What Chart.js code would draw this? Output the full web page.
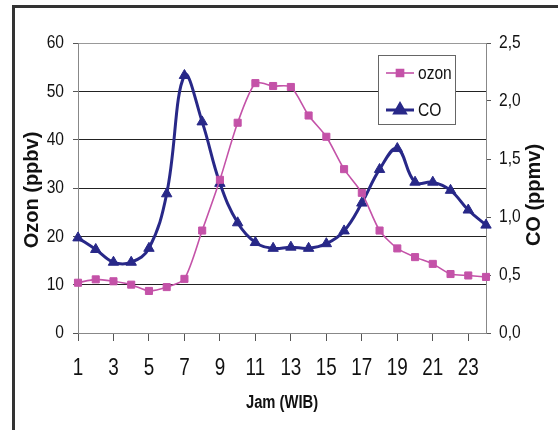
<!DOCTYPE html>
<html>
<head>
<meta charset="utf-8">
<script src="https://cdn.jsdelivr.net/npm/chart.js@4.4.1/dist/chart.umd.min.js"></script>
<style>
  html, body { margin: 0; padding: 0; background: #fff; }
  #wrap { position: relative; width: 558px; height: 430px; overflow: hidden; }
  #frame { position: absolute; left: 12px; top: 5px; width: 600px; height: 500px;
           border-left: 3px solid #333; border-top: 3px solid #333; }
  #c { position: absolute; left: 0; top: 0; }
</style>
</head>
<body>
<div id="wrap">
  <div id="frame"></div>
  <canvas id="c" width="558" height="430"></canvas>
</div>
<script>
// Hourly mean concentrations (local time, WIB)
const hours = ['1','2','3','4','5','6','7','8','9','10','11','12',
               '13','14','15','16','17','18','19','20','21','22','23','24'];
const ozon = [10.4, 11.1, 10.7, 10.0, 8.7, 9.5, 11.2, 21.2, 31.7, 43.5, 51.7, 51.1,
              50.9, 45.0, 40.6, 33.9, 29.0, 21.2, 17.5, 15.7, 14.3, 12.2, 11.9, 11.6];
const co = [0.82, 0.72, 0.61, 0.61, 0.73, 1.20, 2.22, 1.82, 1.29, 0.95, 0.78, 0.73,
            0.74, 0.73, 0.77, 0.88, 1.12, 1.41, 1.59, 1.30, 1.30, 1.23, 1.06, 0.93];
const ozonTicks = [0, 10, 20, 30, 40, 50, 60];
const coTicks = [0.0, 0.5, 1.0, 1.5, 2.0, 2.5];

const seriesNames = ['ozon', 'CO'];
const axisTitles = { x: 'Jam (WIB)', left: 'Ozon (ppbv)', right: 'CO (ppmv)' };

const PINK = '#C452A8';
const NAVY = '#282888';
const SANS = "'Liberation Sans', Arial, sans-serif";
const NARROW_FACTOR = 0.82;   // horizontal squeeze for a narrow-face look

const PAD = { left: 14, right: 12, top: 43, bottom: 0 };

// Horizontal labels are set in a narrow face: squeeze glyphs around their anchor
const narrowText = {
  id: 'narrowText',
  beforeDraw(chart) {
    const ctx = chart.ctx;
    if (ctx._plainFillText) return;
    const plain = ctx.fillText;
    ctx._plainFillText = plain;
    ctx.fillText = function (text, x, y) {
      this.save();
      this.translate(x, y);
      this.scale(NARROW_FACTOR, 1);
      plain.call(this, text, 0, 0);
      this.restore();
    };
  }
};

// Legend box drawn inside the plot area, top right
const boxLegend = {
  id: 'boxLegend',
  afterDatasetsDraw(chart) {
    const { ctx, chartArea } = chart;
    const w = 77, h = 69;
    const x = chartArea.right - 108, y = chartArea.top + 12;
    ctx.save();
    ctx.fillStyle = '#fff';
    ctx.fillRect(x, y, w, h);
    ctx.strokeStyle = '#666';
    ctx.lineWidth = 1;
    ctx.strokeRect(x + 0.5, y + 0.5, w, h);
    chart.data.datasets.forEach((ds, i) => {
      const ry = y + 18 + i * 37;
      ctx.strokeStyle = ds.borderColor;
      ctx.lineWidth = ds.borderWidth;
      ctx.beginPath();
      ctx.moveTo(x + 8, ry);
      ctx.lineTo(x + 36, ry);
      ctx.stroke();
      ctx.fillStyle = ds.pointBackgroundColor;
      ctx.strokeStyle = ds.pointBorderColor;
      Chart.helpers.drawPoint(ctx, {
        pointStyle: ds.pointStyle, radius: ds.pointRadius, borderWidth: 1, rotation: 0
      }, x + 22, ry);
      ctx.fillStyle = '#111';
      ctx.font = '19px ' + SANS;
      ctx.textBaseline = 'middle';
      ctx.textAlign = 'left';
      ctx.fillText(ds.label, x + 40, ry + 1);
    });
    ctx.restore();
  }
};

// Vertical axis titles, both reading bottom to top
const sideTitles = {
  id: 'sideTitles',
  afterDraw(chart) {
    const { ctx, chartArea } = chart;
    const midY = (chartArea.top + chartArea.bottom) / 2;
    const plain = ctx._plainFillText || ctx.fillText;
    ctx.save();
    ctx.fillStyle = '#111';
    ctx.font = 'bold 20px ' + SANS;
    ctx.textAlign = 'center';
    ctx.textBaseline = 'middle';
    const put = (text, cx, cy) => {
      ctx.save();
      ctx.translate(cx, cy);
      ctx.rotate(-Math.PI / 2);
      plain.call(ctx, text, 0, 0);
      ctx.restore();
    };
    put(axisTitles.left, chartArea.left - 46, midY + 2);
    put(axisTitles.right, chartArea.right + 48, midY + 7);
    ctx.restore();
  }
};

new Chart(document.getElementById('c'), {
  type: 'line',
  data: {
    labels: hours,
    datasets: [
      {
        label: seriesNames[0],
        data: ozon,
        yAxisID: 'y',
        borderColor: PINK,
        backgroundColor: PINK,
        pointBackgroundColor: PINK,
        pointBorderColor: PINK,
        borderWidth: 1.6,
        pointStyle: 'rect',
        pointRadius: 5,
        pointBorderWidth: 1,
        tension: 0.25,
        fill: false
      },
      {
        label: seriesNames[1],
        data: co,
        yAxisID: 'y1',
        borderColor: NAVY,
        backgroundColor: NAVY,
        pointBackgroundColor: NAVY,
        pointBorderColor: NAVY,
        borderWidth: 3,
        pointStyle: 'triangle',
        pointRadius: 6,
        pointBorderWidth: 1,
        tension: 0.4,
        fill: false
      }
    ]
  },
  options: {
    responsive: false,
    animation: false,
    devicePixelRatio: 1,
    layout: { padding: PAD },
    plugins: { legend: { display: false }, tooltip: { enabled: false } },
    scales: {
      x: {
        type: 'category',
        offset: false,
        border: { color: '#888', width: 1 },
        grid: {
          drawOnChartArea: false,
          tickLength: 8,
          tickColor: (c) => (c.index % 2 === 0 ? '#555' : 'rgba(0,0,0,0)')
        },
        ticks: {
          autoSkip: false,
          maxRotation: 0,
          minRotation: 0,
          padding: 14,
          color: '#111',
          font: { family: SANS, size: 23 },
          callback: (v, i) => (i % 2 === 0 ? hours[i] : '')
        },
        title: {
          display: true,
          text: axisTitles.x,
          color: '#111',
          font: { family: SANS, size: 18, weight: 'bold' },
          padding: { top: 2, bottom: 16 }
        },
        afterFit: (s) => { s.height = 430 - 333 - PAD.bottom; }
      },
      y: {
        position: 'left',
        min: 0,
        max: 60,
        border: { color: '#888', width: 1 },
        grid: {
          color: (c) => (c.tick && (c.tick.value === 0 || c.tick.value === 60) ? '#999' : '#222'),
          tickColor: '#555',
          tickLength: 5
        },
        afterBuildTicks: (s) => { s.ticks = ozonTicks.map(v => ({ value: v })); },
        ticks: {
          padding: 9,
          color: '#111',
          font: { family: SANS, size: 19 }
        },
        afterFit: (s) => { s.width = 78 - PAD.left; }
      },
      y1: {
        position: 'right',
        min: 0,
        max: 2.5,
        border: { color: '#888', width: 1 },
        grid: { drawOnChartArea: false, tickColor: '#555', tickLength: 5 },
        afterBuildTicks: (s) => { s.ticks = coTicks.map(v => ({ value: v })); },
        ticks: {
          padding: 8,
          color: '#111',
          font: { family: SANS, size: 19 },
          callback: (v) => Number(v).toFixed(1).replace('.', ',')
        },
        afterFit: (s) => { s.width = 558 - 486 - PAD.right; }
      }
    }
  },
  plugins: [narrowText, boxLegend, sideTitles]
});
</script>
</body>
</html>
